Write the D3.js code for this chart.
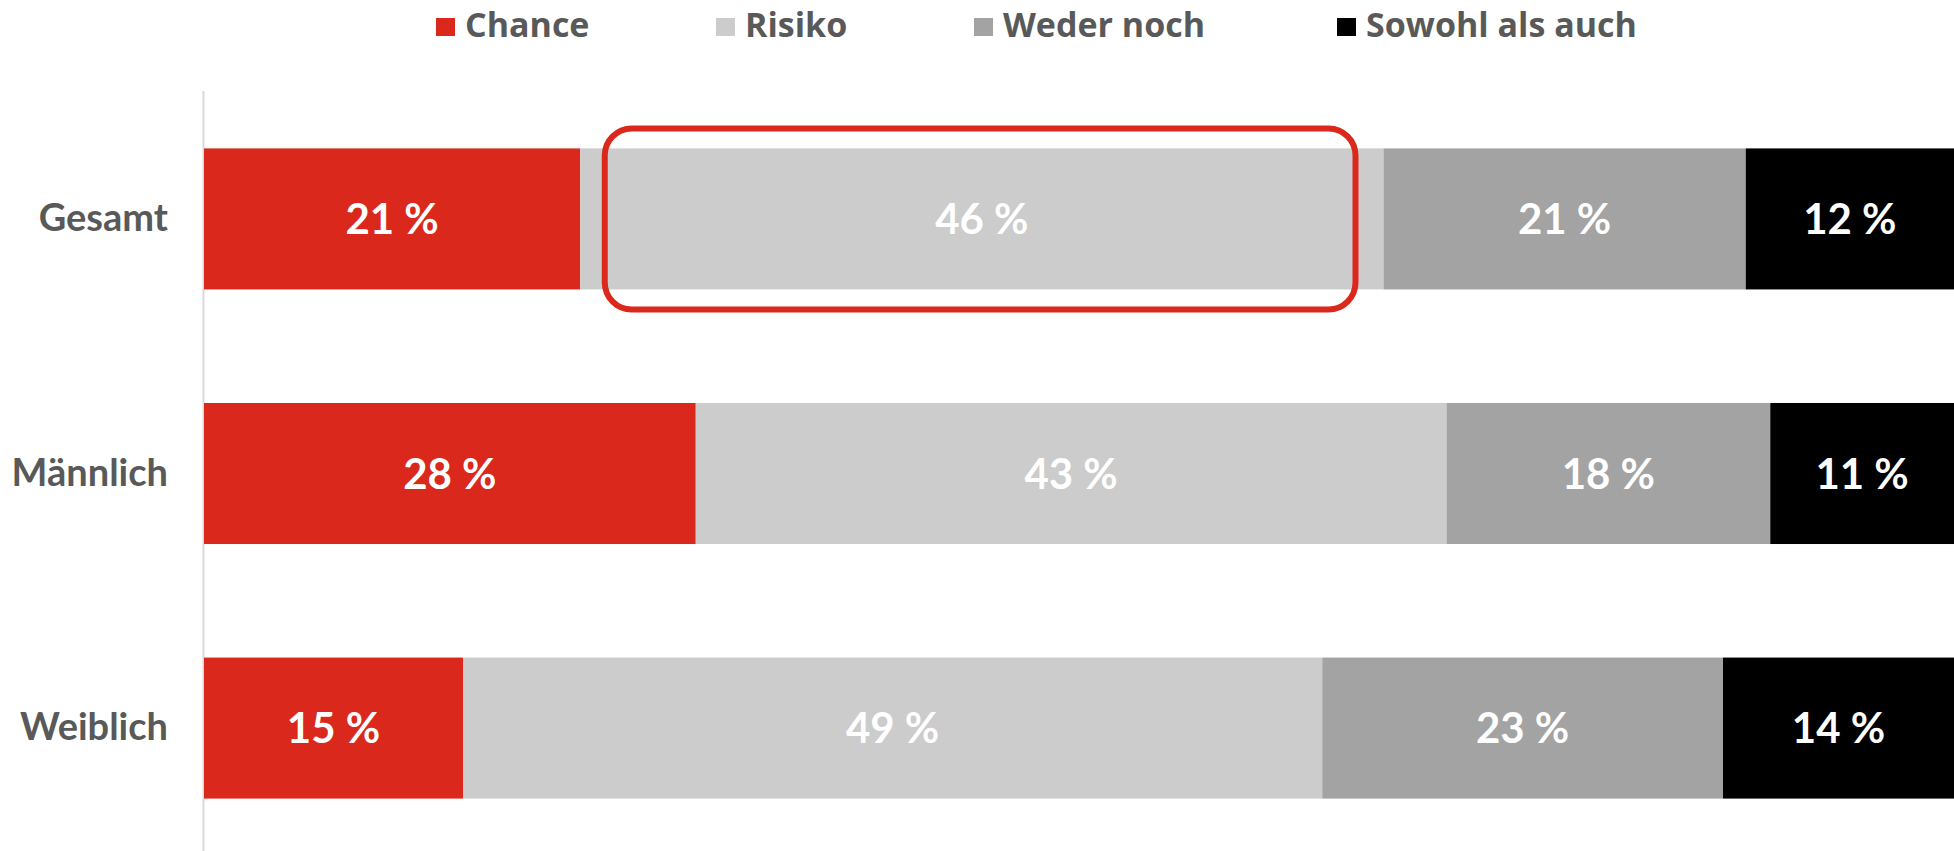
<!DOCTYPE html>
<html>
<head>
<meta charset="utf-8">
<script src="https://cdn.jsdelivr.net/npm/d3@7"></script>
<style>
  body { margin: 0; background: #fff; }
  text { font-family: Lato, "Open Sans", sans-serif; font-weight: bold; }
</style>
</head>
<body>
<script>
//==============================================================================
// data

var groups = ["Gesamt", "Männlich", "Weiblich"];
var seriesNames = ["Chance", "Risiko", "Weder noch", "Sowohl als auch"];
var seriesColors = ["#da291c", "#cccccc", "#a3a3a3", "#000000"];

// bar shares (percent)
var chance = [21.5, 28.1, 14.8];
var risiko = [45.9, 42.9, 49.1];
var weder = [20.7, 18.5, 22.9];
var sowohl = [11.9, 10.5, 13.2];

// printed labels
var chanceLabels = [21, 28, 15];
var risikoLabels = [46, 43, 49];
var wederLabels = [21, 18, 23];
var sowohlLabels = [12, 11, 14];

// highlighted range on the Gesamt bar
var highlightGroup = "Gesamt";
var highlightRange = [22.9, 65.8];

//==============================================================================

var totalWidth = 1954;
var totalHeight = 851;

var svg = d3.select("body").append("svg")
    .attr("width", totalWidth)
    .attr("height", totalHeight);

var seriesValues = [chance, risiko, weder, sowohl];
var seriesLabels = [chanceLabels, risikoLabels, wederLabels, sowohlLabels];

var rows = groups.map(function(g, i) {
    var r = {group: g};
    seriesNames.forEach(function(s, j) { r[s] = seriesValues[j][i]; });
    return r;
});

var stacked = d3.stack().keys(seriesNames)(rows);

var x = d3.scaleLinear().domain([0, 100]).range([204, 1954]);
var y = d3.scaleBand().domain(groups)
    .range([91, 856])
    .paddingInner(0.446)
    .paddingOuter(0.2255);

// axis line
svg.append("line")
    .attr("x1", 203.5).attr("x2", 203.5)
    .attr("y1", 91).attr("y2", totalHeight)
    .style("stroke", "#d9d9d9")
    .style("stroke-width", 2);

var layers = svg.selectAll(".layer").data(stacked).enter()
    .append("g").attr("class", "layer")
    .style("fill", function(d, i) { return seriesColors[i]; });

layers.selectAll("rect").data(function(d) { return d; }).enter()
    .append("rect")
    .attr("x", function(d) { return x(d[0]); })
    .attr("width", function(d) { return x(d[1]) - x(d[0]); })
    .attr("y", function(d) { return y(d.data.group); })
    .attr("height", y.bandwidth());

layers.each(function(layer, li) {
    d3.select(this).selectAll("text").data(layer).enter()
        .append("text")
        .attr("x", function(d) { return (x(d[0]) + x(d[1])) / 2; })
        .attr("y", function(d) { return y(d.data.group) + y.bandwidth() / 2; })
        .attr("dy", "0.36em")
        .attr("text-anchor", "middle")
        .style("fill", "#ffffff")
        .style("font-size", "42px")
        .text(function(d, i) { return seriesLabels[li][i] + " %"; });
});

// category labels
var yAxis = d3.axisLeft(y).tickSize(0).tickPadding(36);
svg.append("g")
    .attr("transform", "translate(204,0)")
    .call(yAxis)
    .call(function(g) { g.select(".domain").remove(); })
    .selectAll("text")
    .style("font-family", "Lato, sans-serif")
    .style("font-size", "38px")
    .style("fill", "#595959");

// highlight box
svg.append("rect")
    .attr("x", x(highlightRange[0]))
    .attr("y", y(highlightGroup) - 20)
    .attr("width", x(highlightRange[1]) - x(highlightRange[0]))
    .attr("height", y.bandwidth() + 40)
    .attr("rx", 27).attr("ry", 27)
    .style("fill", "none")
    .style("stroke", "#da291c")
    .style("stroke-width", 6);

// legend
var legendX = [436, 716, 974, 1337];
var legend = svg.selectAll(".legend").data(seriesNames).enter()
    .append("g").attr("class", "legend")
    .attr("transform", function(d, i) { return "translate(" + legendX[i] + ",0)"; });

legend.append("rect")
    .attr("y", 18).attr("width", 19).attr("height", 18)
    .style("fill", function(d, i) { return seriesColors[i]; });

legend.append("text")
    .attr("x", 29).attr("y", 37)
    .style("font-family", "'Open Sans', sans-serif")
    .style("font-size", "34px")
    .style("fill", "#595959")
    .text(function(d) { return d; });
</script>
</body>
</html>
